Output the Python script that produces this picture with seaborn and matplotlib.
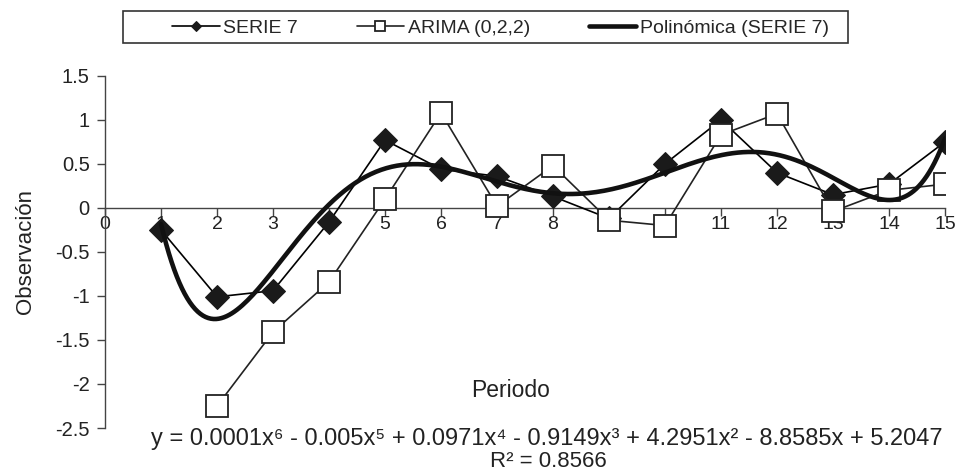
import numpy as np
import pandas as pd
import matplotlib
matplotlib.use("Agg")
import matplotlib.pyplot as plt
from matplotlib.patches import Rectangle
import seaborn as sns

periodo = [1, 2, 3, 4, 5, 6, 7, 8, 9, 10, 11, 12, 13, 14, 15]
serie7 = [-0.25, -1.01, -0.94, -0.16, 0.77, 0.44, 0.36, 0.13, -0.12, 0.50, 1.00, 0.40, 0.15, 0.27, 0.75]
periodo_arima = [2, 3, 4, 5, 6, 7, 8, 9, 10, 11, 12, 13, 14, 15]
arima = [-2.25, -1.41, -0.84, 0.10, 1.08, 0.02, 0.48, -0.14, -0.20, 0.83, 1.07, -0.04, 0.20, 0.27]
y_ticks = [1.5, 1, 0.5, 0, -0.5, -1, -1.5, -2, -2.5]
x_ticks = list(range(0, 16))

ecuacion = "y = 0.0001x⁶ - 0.005x⁵ + 0.0971x⁴ - 0.9149x³ + 4.2951x² - 8.8585x + 5.2047"
r2_texto = "R² = 0.8566"

sns.set_theme(style="white")
plt.rcParams["font.family"] = ["Liberation Sans", "DejaVu Sans"]

df_s = pd.DataFrame({"x": periodo, "y": serie7})
df_a = pd.DataFrame({"x": periodo_arima, "y": arima})

# Excel-style polynomial trendline (degree 6) fitted to SERIE 7
coef = np.polyfit(periodo, serie7, 6)
xs = np.linspace(1, 15, 300)
df_p = pd.DataFrame({"x": xs, "y": np.polyval(coef, xs)})

txt = "#222222"
fig = plt.figure(figsize=(9.55, 4.74), dpi=100)
ax = fig.add_axes([0.110, 0.097, 0.8795, 0.743])

sns.lineplot(data=df_s, x="x", y="y", ax=ax, color="black", lw=1.2,
             marker="D", markersize=12, markerfacecolor="#1a1a1a",
             markeredgecolor="#1a1a1a", label="SERIE 7", zorder=3)
sns.lineplot(data=df_a, x="x", y="y", ax=ax, color="#222222", lw=1.2,
             marker="s", markersize=15.5, markerfacecolor="white",
             markeredgecolor="#222222", markeredgewidth=1.3,
             label="ARIMA (0,2,2)", zorder=4)
sns.lineplot(data=df_p, x="x", y="y", ax=ax, color="#111111", lw=3.3,
             label="Polinómica (SERIE 7)", zorder=5)

ax.set_xlim(0, 15)
ax.set_ylim(-2.5, 1.5)
ax.set_xticks(x_ticks)
ax.set_yticks(y_ticks)
ax.set_yticklabels([f"{v:g}" for v in y_ticks])
ax.spines["top"].set_visible(False)
ax.spines["right"].set_visible(False)
ax.spines["bottom"].set_position(("data", 0))
for s in ["left", "bottom"]:
    ax.spines[s].set_color("#444444")
    ax.spines[s].set_linewidth(1)
ax.tick_params(axis="both", which="both", direction="out", length=6,
               width=1, color="#444444", labelcolor=txt,
               left=True, bottom=True)
ax.tick_params(axis="y", labelsize=14.5, pad=5)
ax.tick_params(axis="x", labelsize=14, pad=0)
ax.xaxis.set_zorder(1)
ax.set_xlabel("")
ax.set_ylabel("Observación", fontsize=16, color=txt, labelpad=14)

ax.text(7.24, -2.07, "Periodo", ha="center", va="center", fontsize=16.5, color=txt)
fig.text(0.573, 0.074, ecuacion, ha="center", va="center", fontsize=17, color=txt)
fig.text(0.574, 0.026, r2_texto, ha="center", va="center", fontsize=16, color=txt)

# legend (box drawn separately to match the wide frame)
ax.get_legend().remove()
handles, labels = ax.get_legend_handles_labels()
leg = fig.legend(handles, labels, loc="center left",
                 bbox_to_anchor=(0.180, 0.940), ncol=3, frameon=False,
                 fontsize=14, handlelength=2.45, borderpad=0,
                 borderaxespad=0, handletextpad=0.2, columnspacing=3.0,
                 markerscale=0.45)
fig.patches.append(Rectangle((123 / 955, 1 - 43 / 474), 725 / 955, 32 / 474,
                             transform=fig.transFigure, fill=False,
                             edgecolor="#333333", linewidth=1.2))

fig.savefig("out.png", dpi=100)
